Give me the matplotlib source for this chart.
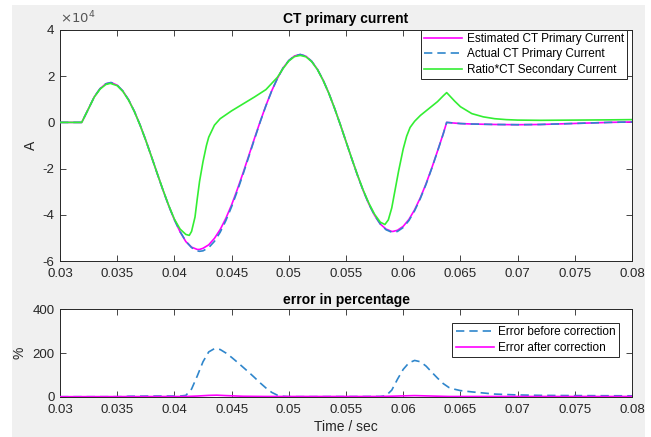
import numpy as np
import matplotlib
matplotlib.use("Agg")
import matplotlib.pyplot as plt
from matplotlib.patches import Rectangle
from matplotlib.ticker import FuncFormatter

plt.rcParams['font.family'] = ['Liberation Sans', 'DejaVu Sans']
plt.rcParams['axes.unicode_minus'] = False

# --- top panel data (current, in units of 1e4 A) ---
t_primary = [0.030, 0.0315, 0.0319, 0.0325, 0.033, 0.0335, 0.034, 0.0344, 0.0345, 0.035,
             0.0355, 0.036, 0.0365, 0.037, 0.0375, 0.038, 0.0385, 0.039, 0.0395, 0.040,
             0.0405, 0.041, 0.0415, 0.042, 0.0422, 0.0425, 0.043, 0.0435, 0.044, 0.0445,
             0.045, 0.0455, 0.046, 0.0465, 0.047, 0.0475, 0.048, 0.0485, 0.049, 0.0495,
             0.050, 0.0505, 0.051, 0.0515, 0.052, 0.0525, 0.053, 0.0535, 0.054, 0.0545,
             0.055, 0.0555, 0.056, 0.0565, 0.057, 0.0575, 0.058, 0.0585, 0.059, 0.0591,
             0.0595, 0.060, 0.0605, 0.061, 0.0615, 0.062, 0.0625, 0.063, 0.0635, 0.0638,
             0.0645, 0.065, 0.066, 0.068, 0.070, 0.072, 0.074, 0.076, 0.078, 0.080]
actual = [0.0, 0.0, 0.0, 0.60, 1.11, 1.46, 1.67, 1.72, 1.72, 1.61,
          1.355, 0.974, 0.479, -0.114, -0.775, -1.487, -2.215, -2.929, -3.605, -4.214,
          -4.732, -5.141, -5.421, -5.563, -5.58, -5.56, -5.42, -5.15, -4.755, -4.25,
          -3.65, -2.974, -2.246, -1.489, -0.724, 0.020, 0.721, 1.356, 1.901, 2.357,
          2.678, 2.877, 2.94, 2.863, 2.646, 2.298, 1.830, 1.263, 0.611, -0.092,
          -0.829, -1.567, -2.282, -2.947, -3.535, -4.025, -4.40, -4.647, -4.755, -4.76,
          -4.72, -4.55, -4.248, -3.823, -3.293, -2.675, -1.987, -1.251, -0.499, 0.0,
          -0.03, -0.05, -0.07, -0.09, -0.10, -0.09, -0.06, -0.03, 0.0, 0.02]
estimated = [0.0, 0.0, 0.0, 0.60, 1.11, 1.46, 1.67, 1.72, 1.72, 1.61,
             1.355, 0.974, 0.479, -0.114, -0.775, -1.487, -2.215, -2.929, -3.605, -4.214,
             -4.74, -5.16, -5.40, -5.50, -5.50, -5.45, -5.30, -5.02, -4.64, -4.15,
             -3.57, -2.90, -2.19, -1.44, -0.69, 0.04, 0.73, 1.36, 1.90, 2.357,
             2.678, 2.877, 2.94, 2.863, 2.646, 2.298, 1.830, 1.263, 0.611, -0.092,
             -0.829, -1.567, -2.282, -2.947, -3.535, -4.025, -4.40, -4.62, -4.72, -4.72,
             -4.67, -4.50, -4.20, -3.78, -3.26, -2.65, -1.97, -1.24, -0.49, 0.0,
             -0.03, -0.05, -0.07, -0.09, -0.10, -0.09, -0.06, -0.03, 0.0, 0.02]

t_ratio = [0.030, 0.0315, 0.0319, 0.0325, 0.033, 0.0335, 0.034, 0.0344, 0.035, 0.0355,
           0.036, 0.0365, 0.037, 0.0375, 0.038, 0.0385, 0.039, 0.0395, 0.040, 0.0405,
           0.041, 0.0413, 0.0415, 0.0418, 0.042, 0.0422, 0.0425, 0.0428, 0.043, 0.0435,
           0.044, 0.045, 0.046, 0.047, 0.048, 0.049, 0.0495, 0.050, 0.0505, 0.051,
           0.0515, 0.052, 0.0525, 0.053, 0.0535, 0.054, 0.0545, 0.055, 0.0555, 0.056,
           0.0565, 0.057, 0.0575, 0.058, 0.0584, 0.0587, 0.059, 0.0593, 0.0596, 0.060,
           0.0603, 0.0606, 0.061, 0.0615, 0.062, 0.063, 0.0635, 0.0638, 0.0645, 0.065,
           0.066, 0.067, 0.068, 0.069, 0.070, 0.072, 0.075, 0.078, 0.080]
ratio_secondary = [0.0, 0.0, 0.0, 0.60, 1.10, 1.44, 1.64, 1.69, 1.59, 1.34,
                   0.96, 0.47, -0.12, -0.78, -1.49, -2.21, -2.92, -3.59, -4.19, -4.62,
                   -4.85, -4.89, -4.72, -4.10, -3.30, -2.55, -1.70, -1.00, -0.64, -0.12,
                   0.16, 0.50, 0.80, 1.10, 1.42, 1.95, 2.33, 2.66, 2.85, 2.90,
                   2.84, 2.63, 2.29, 1.82, 1.26, 0.61, -0.09, -0.83, -1.56, -2.27,
                   -2.93, -3.50, -3.98, -4.32, -4.42, -4.22, -3.70, -2.90, -2.10, -1.15,
                   -0.60, -0.22, 0.05, 0.30, 0.50, 0.90, 1.15, 1.29, 0.92, 0.68,
                   0.38, 0.24, 0.16, 0.12, 0.10, 0.09, 0.10, 0.11, 0.12]

# --- bottom panel data (percent) ---
t_err_before = [0.030, 0.0355, 0.036, 0.038, 0.0405, 0.041, 0.0415, 0.042, 0.0425, 0.043,
                0.0435, 0.044, 0.0445, 0.045, 0.0455, 0.046, 0.0465, 0.047, 0.0475, 0.048,
                0.0485, 0.049, 0.0495, 0.050, 0.058, 0.0585, 0.059, 0.0595, 0.060, 0.0605,
                0.061, 0.0615, 0.062, 0.0625, 0.063, 0.0635, 0.064, 0.0645, 0.065, 0.066,
                0.067, 0.068, 0.070, 0.072, 0.075, 0.080]
err_before = [0, 0, 2, 3, 3, 6, 35, 95, 160, 205,
              220, 216, 200, 180, 158, 135, 112, 88, 63, 40,
              20, 7, 2, 0, 1, 5, 30, 80, 125, 155,
              166, 160, 140, 112, 85, 60, 42, 34, 28, 22,
              17, 12, 8, 6, 5, 4]

t_err_after = [0.030, 0.041, 0.042, 0.043, 0.0437, 0.0445, 0.046, 0.048, 0.058, 0.0595,
               0.061, 0.0625, 0.064, 0.080]
err_after = [0, 1, 3, 6, 7, 5, 2, 1, 1, 3, 5, 3, 1, 1]

x_ticks = [0.03, 0.035, 0.04, 0.045, 0.05, 0.055, 0.06, 0.065, 0.07, 0.075, 0.08]
x_labels = ['0.03', '0.035', '0.04', '0.045', '0.05', '0.055', '0.06', '0.065', '0.07', '0.075', '0.08']

axc = '#262626'

fig = plt.figure(figsize=(6.51, 4.37), dpi=100)
fig.patch.set_facecolor('white')
fig.add_artist(Rectangle((12/651, 0), (645-12)/651, (437-5)/437, transform=fig.transFigure,
                         facecolor='#f0f0f0', edgecolor='none', zorder=-10))

ax1 = fig.add_axes([60/651, 1-261/437, 572/651, 231/437])
ax2 = fig.add_axes([60/651, 1-396.7/437, 572/651, 87.4/437])

def style(ax):
    ax.set_xlim(0.03, 0.08)
    ax.set_xticks(x_ticks)
    ax.set_xticklabels(x_labels)
    ax.tick_params(direction='in', top=True, right=True, length=4, width=0.6,
                   labelsize=9.5, colors=axc)
    ax.tick_params(axis='x', pad=5)
    ax.tick_params(axis='y', pad=4)
    for s in ax.spines.values():
        s.set_color(axc)
        s.set_linewidth(0.7)

# top panel (plotted in 1e4 A, exponent shown as text like MATLAB)
ax1.plot(t_primary, estimated, color='#ff00ff', lw=1.2, label='Estimated CT Primary Current', zorder=3)
ax1.plot(t_primary, actual, color='#2f86cc', lw=1.2, ls=(0, (5, 3)), label='Actual CT Primary Current', zorder=4)
ax1.plot(t_ratio, ratio_secondary, color='#33ee33', lw=1.2, label='Ratio*CT Secondary Current', zorder=5)
style(ax1)
ax1.set_ylim(-6, 4)
ax1.set_yticks([-6, -4, -2, 0, 2, 4])
ax1.yaxis.set_major_formatter(FuncFormatter(lambda v, p: '%d' % v))
ax1.text(0.0, 1.015, r'$\times10^{4}$', transform=ax1.transAxes, fontsize=9.5, color='#555555',
         ha='left', va='bottom')
ax1.set_ylabel('A', fontsize=10, color=axc, labelpad=3)
ax1.set_title('CT primary current', fontsize=10, fontweight='bold', color='black', pad=5)
leg1 = ax1.legend(loc='upper right', bbox_to_anchor=(0.991, 1.0), borderaxespad=0,
                  fontsize=8.5, fancybox=False, edgecolor=axc, framealpha=1,
                  handlelength=3.2, handletextpad=0.4, labelspacing=0.3, borderpad=0.25)
leg1.get_frame().set_linewidth(0.7)

# bottom panel
ax2.plot(t_err_before, err_before, color='#2f86cc', lw=1.2, ls=(0, (5, 3)), label='Error before correction', zorder=3)
ax2.plot(t_err_after, err_after, color='#ff00ff', lw=1.2, label='Error after correction', zorder=4)
style(ax2)
ax2.set_ylim(0, 400)
ax2.set_yticks([0, 200, 400])
ax2.set_ylabel('%', fontsize=10, color=axc, labelpad=4)
ax2.set_xlabel('Time / sec', fontsize=10, color=axc, labelpad=3)
ax2.set_title('error in percentage', fontsize=10, fontweight='bold', color='black', pad=4)
leg2 = ax2.legend(loc='upper right', bbox_to_anchor=(0.978, 0.847), borderaxespad=0,
                  fontsize=8.5, fancybox=False, edgecolor=axc, framealpha=1,
                  handlelength=3.2, handletextpad=0.4, labelspacing=0.3, borderpad=0.3)
leg2.get_frame().set_linewidth(0.7)

fig.savefig('out.png', dpi=100, facecolor=fig.get_facecolor())
